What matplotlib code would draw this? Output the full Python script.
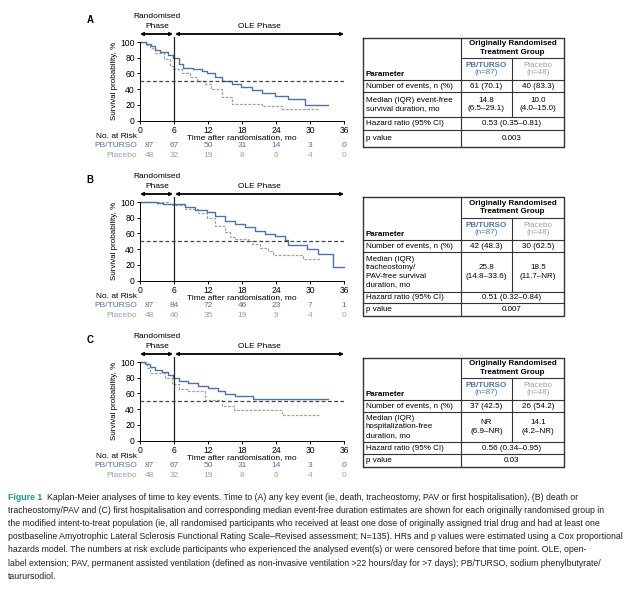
import numpy as np
import matplotlib
matplotlib.use("Agg")
from matplotlib import pyplot as plt
from matplotlib.transforms import blended_transform_factory

plt.rcParams['font.family'] = ['Liberation Sans', 'DejaVu Sans']
plt.rcParams['font.size'] = 5.5

W, H = 644, 589
BLUE = '#4f72aa'
GREY = '#a0a0a0'

# Kaplan-Meier step curves (months, survival %)
a_pb_t = [0, 1, 2, 2.6, 3.5, 5, 5.9, 6.8, 7.6, 9.4, 10.9, 11.8, 13.2, 14.4, 16.2, 17.9, 19.7, 21.5, 23.8, 26.2, 29.1, 33.1]
a_pb_s = [100, 98, 95, 90, 87, 83, 79, 72, 67, 65, 63, 60, 55, 50, 47, 43, 39, 35, 31, 27, 20, 20]
a_pl_t = [0, 1.2, 1.8, 2.6, 4.2, 5.3, 5.9, 7.4, 8.8, 10.0, 11.5, 12.6, 14.4, 16.2, 21.5, 25.0, 31.4]
a_pl_s = [100, 96, 92, 86, 78, 70, 66, 60, 56, 50, 46, 40, 30, 21, 18, 15, 15]

b_pb_t = [0, 3, 4, 5.9, 7.9, 9.7, 11.8, 13.2, 15, 16.8, 18.5, 20.3, 22, 23.8, 25.6, 26.2, 29.4, 31.4, 34, 36]
b_pb_s = [100, 99, 98, 97, 93, 90, 87, 82, 76, 72, 68, 63, 59, 57, 52, 45, 40, 34, 17, 17]
b_pl_t = [0, 5, 5.9, 7.9, 10.3, 11.8, 13.2, 15, 15.9, 16.8, 19.1, 19.7, 21.2, 22.6, 23.5, 28.8, 31.8]
b_pl_s = [100, 98, 96, 91, 86, 80, 70, 62, 55, 53, 50, 46, 42, 37, 33, 28, 28]

c_pb_t = [0, 0.9, 1.8, 2.6, 3.8, 5, 5.9, 6.8, 8.5, 10.3, 12, 13.8, 15, 16.8, 20, 33.2]
c_pb_s = [100, 98, 94, 90, 87, 83, 80, 76, 73, 70, 67, 63, 59, 57, 53, 53]
c_pl_t = [0, 1.2, 1.8, 4.4, 5.6, 6.8, 8.5, 11.5, 14.4, 16.6, 25.0, 31.5]
c_pl_s = [100, 92, 86, 80, 72, 65, 63, 51, 44, 39, 32, 32]

risk_months = [0, 6, 12, 18, 24, 30, 36]
a_risk_pb = [87, 67, 50, 31, 14, 3, 0]
a_risk_pl = [48, 32, 19, 8, 6, 4, 0]
b_risk_pb = [87, 84, 72, 46, 23, 7, 1]
b_risk_pl = [48, 46, 35, 19, 9, 4, 0]
c_risk_pb = [87, 67, 50, 31, 14, 3, 0]
c_risk_pl = [48, 32, 19, 8, 6, 4, 0]

# table contents
events_label = 'Number of events, n (%)'
a_events = ['61 (70.1)', '40 (83.3)']
b_events = ['42 (48.3)', '30 (62.5)']
c_events = ['37 (42.5)', '26 (54.2)']
a_median_label = 'Median (IQR) event-free\nsurvival duration, mo'
b_median_label = 'Median (IQR)\ntracheostomy/\nPAV-free survival\nduration, mo'
c_median_label = 'Median (IQR)\nhospitalization-free\nduration, mo'
a_median = ['14.8\n(6.5\u201329.1)', '10.0\n(4.0\u201315.0)']
b_median = ['25.8\n(14.8\u201333.6)', '18.5\n(11.7\u2013NR)']
c_median = ['NR\n(6.9\u2013NR)', '14.1\n(4.2\u2013NR)']
a_hr = '0.53 (0.35\u20130.81)'
b_hr = '0.51 (0.32\u20130.84)'
c_hr = '0.56 (0.34\u20130.95)'
a_p = '0.003'
b_p = '0.007'
c_p = '0.03'

caption_lines = [
    'Kaplan-Meier analyses of time to key events. Time to (A) any key event (ie, death, tracheostomy, PAV or first hospitalisation), (B) death or',
    'tracheostomy/PAV and (C) first hospitalisation and corresponding median event-free duration estimates are shown for each originally randomised group in',
    'the modified intent-to-treat population (ie, all randomised participants who received at least one dose of originally assigned trial drug and had at least one',
    'postbaseline Amyotrophic Lateral Sclerosis Functional Rating Scale\u2013Revised assessment; N=135). HRs and p values were estimated using a Cox proportional',
    'hazards model. The numbers at risk exclude participants who experienced the analysed event(s) or were censored before that time point. OLE, open-',
    'label extension; PAV, permanent assisted ventilation (defined as non-invasive ventilation >22 hours/day for >7 days); PB/TURSO, sodium phenylbutyrate/',
    'taurursodiol.',
]
# right edge each caption line reaches in the reference (pixels)
caption_right = [610, 627, 633, 632, 610, 614, None]

fig = plt.figure(figsize=(W / 100, H / 100), dpi=100)
fig.patch.set_facecolor('white')

# overlay in pixel coordinates for tables, headers and caption
ov = fig.add_axes([0, 0, 1, 1], zorder=5)
ov.set_xlim(0, W)
ov.set_ylim(H, 0)
ov.axis('off')
ov.patch.set_alpha(0)


def km_panel(off, letter, pb_t, pb_s, pl_t, pl_s, risk_pb, risk_pl):
    top, bot = 42 + off, 120.5 + off
    ax = fig.add_axes([140 / W, 1 - bot / H, 204 / W, (bot - top) / H])
    ax.step(pl_t, pl_s, where='post', color=GREY, lw=0.9, ls=(0, (2.2, 1.2)), clip_on=False)
    ax.step(pb_t, pb_s, where='post', color=BLUE, lw=1.0, clip_on=False)
    ax.axhline(50, color='#444444', lw=0.9, ls=(0, (3, 2)))
    ax.plot([6, 6], [0, 106], color='#222222', lw=0.9, clip_on=False)
    ax.set_xlim(0, 36)
    ax.set_ylim(0, 100)
    ax.set_xticks(risk_months)
    ax.set_yticks([0, 20, 40, 60, 80, 100])
    for s in ['top', 'right']:
        ax.spines[s].set_visible(False)
    for s in ['left', 'bottom']:
        ax.spines[s].set_linewidth(0.7)
    ax.tick_params(length=2.5, width=0.7, pad=1.2, labelsize=6.2)
    ax.set_ylabel('Survival probability, %', fontsize=5.8, labelpad=2)
    ax.set_xlabel('Time after randomisation, mo', fontsize=6, labelpad=-0.5)

    tr = blended_transform_factory(ax.transData, ax.transAxes)
    ax.text(-0.5, -0.20, 'No. at Risk', transform=tr, ha='right', va='center', fontsize=6)
    ax.text(-0.5, -0.32, 'PB/TURSO', transform=tr, ha='right', va='center', fontsize=6, color=BLUE)
    ax.text(-0.5, -0.44, 'Placebo', transform=tr, ha='right', va='center', fontsize=6, color=GREY)
    for i, m in enumerate(risk_months):
        xm = 1.6 if m == 0 else m
        ax.text(xm, -0.32, str(risk_pb[i]), transform=tr, ha='center', va='center', fontsize=6, color=BLUE)
        ax.text(xm, -0.44, str(risk_pl[i]), transform=tr, ha='center', va='center', fontsize=6, color=GREY)

    # phase header
    ya = 34 + off
    ov.annotate('', xy=(140, ya), xytext=(173, ya),
                arrowprops=dict(arrowstyle='<|-|>', lw=1.3, color='black', mutation_scale=4, shrinkA=0, shrinkB=0))
    ov.annotate('', xy=(175, ya), xytext=(344, ya),
                arrowprops=dict(arrowstyle='<|-|>', lw=1.3, color='black', mutation_scale=4, shrinkA=0, shrinkB=0))
    ov.text(157, 17 + off, 'Randomised', ha='center', va='center', fontsize=6)
    ov.text(157, 27 + off, 'Phase', ha='center', va='center', fontsize=6)
    ov.text(259, 27 + off, 'OLE Phase', ha='center', va='center', fontsize=6)
    ov.text(90, 20 + off, letter, ha='center', va='center', fontsize=7, fontweight='bold')


def table(rows_y, med_label, events, median, hr, p):
    x0, x1, x2, x3 = 363, 461, 512, 564
    top, h1, h2, ev, md, hrb, pb = rows_y
    lc = '#333333'
    kw = dict(color=lc, lw=0.8)
    ov.plot([x0, x3, x3, x0, x0], [top, top, pb, pb, top], color=lc, lw=1.0)
    ov.plot([x1, x1], [top, pb], **kw)
    ov.plot([x1, x3], [h1, h1], **kw)
    ov.plot([x2, x2], [h1, md], **kw)
    for y in [h2, ev, md, hrb]:
        ov.plot([x0, x3], [y, y], **kw)
    fs = 5.8
    ov.text((x1 + x3) / 2, (top + h1) / 2, 'Originally Randomised\nTreatment Group', ha='center', va='center',
            fontsize=fs, fontweight='bold', linespacing=1.25)
    ov.text(x0 + 3, h2 - 5, 'Parameter', ha='left', va='center', fontsize=fs, fontweight='bold')
    ov.text((x1 + x2) / 2, (h1 + h2) / 2 - 3.5, 'PB/TURSO', ha='center', va='center', fontsize=fs,
            fontweight='bold', color=BLUE)
    ov.text((x1 + x2) / 2, (h1 + h2) / 2 + 4, '(n=87)', ha='center', va='center', fontsize=fs, color=BLUE)
    ov.text((x2 + x3) / 2, (h1 + h2) / 2 - 3.5, 'Placebo', ha='center', va='center', fontsize=fs, color=GREY)
    ov.text((x2 + x3) / 2, (h1 + h2) / 2 + 4, '(n=48)', ha='center', va='center', fontsize=fs, color=GREY)
    ov.text(x0 + 3, (h2 + ev) / 2, events_label, ha='left', va='center', fontsize=fs)
    ov.text((x1 + x2) / 2, (h2 + ev) / 2, events[0], ha='center', va='center', fontsize=fs)
    ov.text((x2 + x3) / 2, (h2 + ev) / 2, events[1], ha='center', va='center', fontsize=fs)
    ov.text(x0 + 3, (ev + md) / 2, med_label, ha='left', va='center', fontsize=fs, linespacing=1.3)
    ov.text((x1 + x2) / 2, (ev + md) / 2, median[0], ha='center', va='center', fontsize=fs, linespacing=1.3)
    ov.text((x2 + x3) / 2, (ev + md) / 2, median[1], ha='center', va='center', fontsize=fs, linespacing=1.3)
    ov.text(x0 + 3, (md + hrb) / 2, 'Hazard ratio (95% CI)', ha='left', va='center', fontsize=fs)
    ov.text(x2, (md + hrb) / 2, hr, ha='center', va='center', fontsize=fs)
    ov.text(x0 + 3, (hrb + pb) / 2, 'p value', ha='left', va='center', fontsize=fs)
    ov.text(x2, (hrb + pb) / 2, p, ha='center', va='center', fontsize=fs)


km_panel(0, 'A', a_pb_t, a_pb_s, a_pl_t, a_pl_s, a_risk_pb, a_risk_pl)
km_panel(160, 'B', b_pb_t, b_pb_s, b_pl_t, b_pl_s, b_risk_pb, b_risk_pl)
km_panel(320, 'C', c_pb_t, c_pb_s, c_pl_t, c_pl_s, c_risk_pb, c_risk_pl)

table([38, 58, 80, 92, 117, 130, 147], a_median_label, a_events, a_median, a_hr, a_p)
table([197, 218, 240, 252, 292, 303, 316], b_median_label, b_events, b_median, b_hr, b_p)
table([358, 378, 400, 412, 442, 454, 467], c_median_label, c_events, c_median, c_hr, c_p)

# caption: each line sized so it ends where the reference line ends
renderer = fig.canvas.get_renderer()
ov.text(8, 497, 'Figure 1', ha='left', va='center', fontsize=6.3, fontweight='bold', color='#1f9a8a')
base_fs = 5.4
sizes = []
for i, line in enumerate(caption_lines):
    x = 47 if i == 0 else 8
    t = ov.text(x, 497 + i * 13.2, line, ha='left', va='center', fontsize=base_fs, color='#222222')
    if caption_right[i] is not None:
        wpx = t.get_window_extent(renderer).width
        fs = min(base_fs * (caption_right[i] - x) / wpx, 6.3)
        sizes.append(fs)
        t.set_fontsize(fs)
    else:
        t.set_fontsize(np.mean(sizes))

fig.savefig('out.png', dpi=100, facecolor='white')
